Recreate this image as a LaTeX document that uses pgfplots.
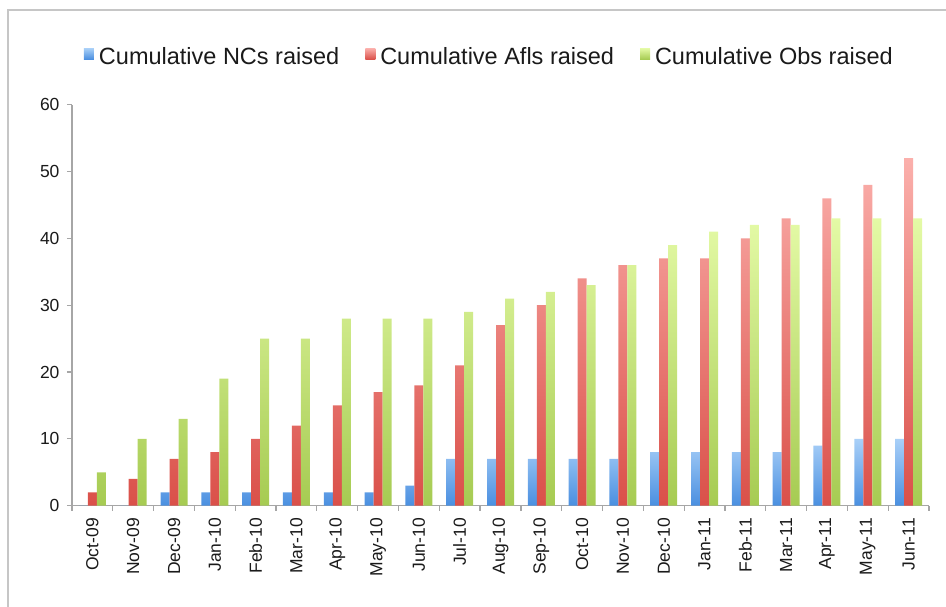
\documentclass[border=0pt]{standalone}
\usepackage{pgfplots}
\pgfplotsset{compat=1.18}
\usepackage{fontspec}
\setmainfont{Liberation Sans}
\definecolor{axgray}{HTML}{A6A6A6}
\definecolor{txt}{HTML}{1A1A1A}
\definecolor{bluetop}{HTML}{A9D0F8}
\definecolor{bluebot}{HTML}{4A8FE0}
\definecolor{redtop}{HTML}{FBB0AC}
\definecolor{redbot}{HTML}{DA5049}
\definecolor{greentop}{HTML}{E4FAA6}
\definecolor{greenbot}{HTML}{A6CB52}
\begin{document}
\begin{tikzpicture}
\path[use as bounding box] (-72bp,-101.3bp) rectangle (874bp,505.7bp);
\draw[gray!45, line width=2bp] (-64bp,-101.3bp) -- (-64bp,495.7bp) -- (874bp,495.7bp);
\begin{axis}[
  at={(0,0)}, anchor=south west,
  scale only axis,
  width=857bp, height=401bp,
  ybar=0pt, bar width=9bp,
  xmin=-0.5, xmax=20.5,
  ymin=0, ymax=60,
  ytick={0,10,...,60},
  xtick={0,...,20},
  xticklabels={Oct-09,Nov-09,Dec-09,Jan-10,Feb-10,Mar-10,Apr-10,May-10,Jun-10,Jul-10,Aug-10,Sep-10,Oct-10,Nov-10,Dec-10,Jan-11,Feb-11,Mar-11,Apr-11,May-11,Jun-11},
  minor xtick={-0.5,0.5,...,20.5},
  axis x line*=bottom, axis y line*=left,
  axis line style={axgray, line width=1.5bp, -},
  tick align=outside,
  major tick length=5bp, minor tick length=5bp,
  major x tick style={draw=none},
  minor x tick style={axgray, line width=1.2bp},
  ytick style={axgray, line width=1.2bp},
  xticklabel style={rotate=90, anchor=east, font=\fontsize{17.5bp}{20bp}\selectfont, text=txt},
  yticklabel style={font=\fontsize{17.5bp}{20bp}\selectfont, text=txt},
  /pgf/number format/assume math mode=true,
  xticklabel shift=4bp, yticklabel shift=4bp,
  legend columns=3,
  legend style={at={(0.487,1)}, anchor=south, yshift=35bp, draw=none, fill=none,
    font=\fontsize{23.5bp}{26bp}\selectfont, text=txt,
    /tikz/every odd column/.append style={column sep=3bp},
    /tikz/every even column/.append style={column sep=24bp}},
  legend image code/.code={\path[#1, draw=none] (0bp,-3bp) rectangle (10bp,8bp);},
  legend cell align=left,
]
\addplot[draw=none, top color=bluetop, bottom color=bluebot] coordinates {
(0,0) (1,0) (2,2) (3,2) (4,2) (5,2) (6,2) (7,2) (8,3) (9,7) (10,7) (11,7) (12,7) (13,7) (14,8) (15,8) (16,8) (17,8) (18,9) (19,10) (20,10)};
\addlegendentry{Cumulative NCs raised}
\addplot[draw=none, top color=redtop, bottom color=redbot] coordinates {
(0,2) (1,4) (2,7) (3,8) (4,10) (5,12) (6,15) (7,17) (8,18) (9,21) (10,27) (11,30) (12,34) (13,36) (14,37) (15,37) (16,40) (17,43) (18,46) (19,48) (20,52)};
\addlegendentry{Cumulative Afls raised}
\addplot[draw=none, top color=greentop, bottom color=greenbot] coordinates {
(0,5) (1,10) (2,13) (3,19) (4,25) (5,25) (6,28) (7,28) (8,28) (9,29) (10,31) (11,32) (12,33) (13,36) (14,39) (15,41) (16,42) (17,42) (18,43) (19,43) (20,43)};
\addlegendentry{Cumulative Obs raised}
\end{axis}
\end{tikzpicture}
\end{document}
